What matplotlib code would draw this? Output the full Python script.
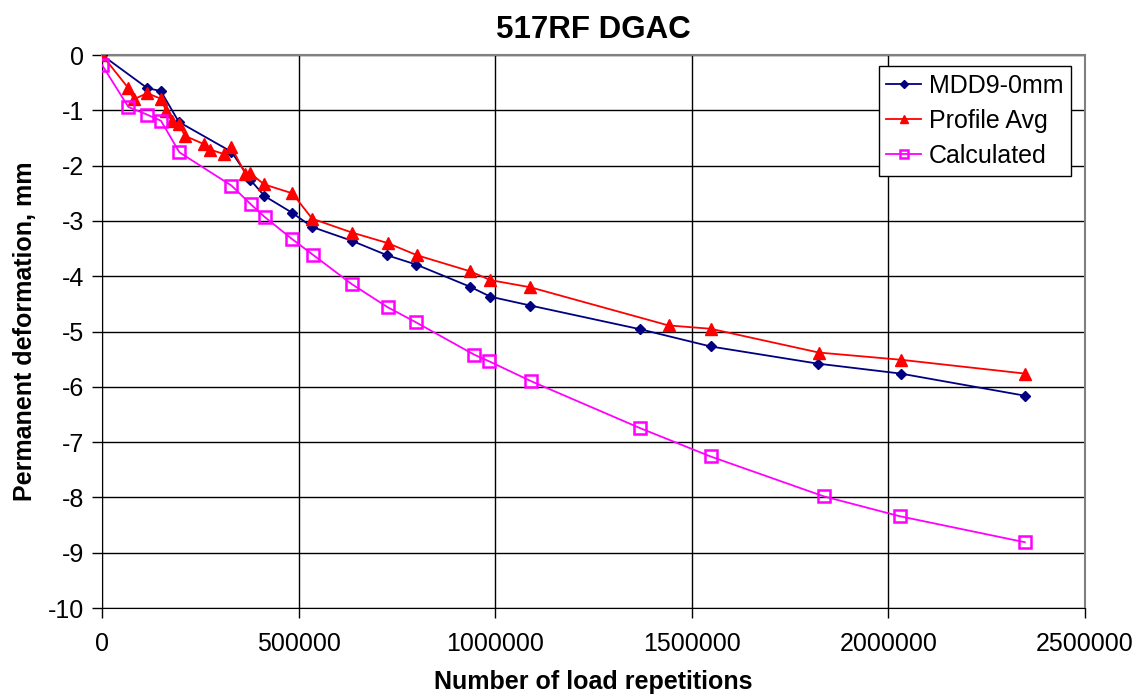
import matplotlib
matplotlib.use("Agg")
from matplotlib import pyplot as plt

plt.rcParams['font.family'] = ['Liberation Sans', 'DejaVu Sans']
plt.rcParams['axes.unicode_minus'] = False

# MDD9-0mm
mdd_x = [0, 115300, 149400, 195300, 329200, 377500, 413200, 483000, 534600, 635700,
         724800, 799400, 936000, 987800, 1089600, 1369600, 1547900, 1820000, 2031000, 2347000]
mdd_y = [0, -0.60, -0.65, -1.21, -1.75, -2.26, -2.55, -2.85, -3.11, -3.36,
         -3.62, -3.79, -4.19, -4.37, -4.53, -4.96, -5.27, -5.58, -5.76, -6.16]

# Profile Avg
prof_x = [0, 66000, 80700, 114600, 149400, 163700, 177400, 196000, 210500, 258900,
          275000, 309800, 328400, 364800, 377500, 412400, 483700, 534600, 635700, 726300,
          801000, 936000, 987800, 1089600, 1441000, 1548000, 1823000, 2031000, 2347000]
prof_y = [0, -0.59, -0.80, -0.69, -0.79, -1.02, -1.20, -1.25, -1.46, -1.61,
          -1.71, -1.79, -1.66, -2.15, -2.14, -2.34, -2.50, -2.96, -3.21, -3.40,
          -3.62, -3.91, -4.07, -4.20, -4.89, -4.95, -5.38, -5.51, -5.76]

# Calculated
calc_x = [0, 67000, 115300, 150000, 196800, 329000, 378500, 414000, 483700, 536000,
          634700, 726300, 797600, 947000, 985000, 1092000, 1369600, 1548000, 1835600, 2029000, 2347000]
calc_y = [-0.18, -0.94, -1.08, -1.19, -1.76, -2.36, -2.70, -2.93, -3.33, -3.61,
          -4.14, -4.56, -4.83, -5.42, -5.54, -5.90, -6.75, -7.26, -7.98, -8.34, -8.81]

fig = plt.figure(figsize=(11.39, 6.94), dpi=100)
ax = fig.add_axes([0.0896, 0.1239, 0.8629, 0.7968])

ax.plot(mdd_x, mdd_y, color="#000080", linewidth=1.3, marker="D", markersize=5.5,
        label="MDD9-0mm", zorder=3)
ax.plot(prof_x, prof_y, color="#ff0000", linewidth=1.3, marker="^", markersize=8,
        label="Profile Avg", zorder=3)
ax.plot(calc_x, calc_y, color="#ff00ff", linewidth=1.3, marker="s", markersize=8,
        markerfacecolor="none", markeredgewidth=1.8, label="Calculated", zorder=4)

ax.set_xlim(0, 2500000)
ax.set_ylim(-10, 0)
ax.set_xticks([0, 500000, 1000000, 1500000, 2000000, 2500000])
ax.set_xticklabels(["0", "500000", "1000000", "1500000", "2000000", "2500000"])
ax.set_yticks(range(-10, 1))
ax.set_yticklabels([str(v) for v in range(-10, 1)])
ax.tick_params(labelsize=18, length=7, width=1, direction="out", pad=6)
ax.tick_params(axis="x", pad=10)
ax.grid(True, color="#000000", linewidth=1.0)
ax.set_axisbelow(True)

ax.spines['top'].set_color("#808080")
ax.spines['right'].set_color("#808080")
ax.spines['top'].set_linewidth(1.5)
ax.spines['right'].set_linewidth(1.5)

ax.set_title("517RF DGAC", fontsize=22.5, fontweight="bold", pad=12)
ax.set_xlabel("Number of load repetitions", fontsize=18, fontweight="bold", labelpad=10)
ax.set_ylabel("Permanent deformation, mm", fontsize=18, fontweight="bold", labelpad=8)

leg = ax.legend(loc="upper right", bbox_to_anchor=(0.9858, 0.980), borderaxespad=0,
                fontsize=18, fancybox=False, framealpha=1, edgecolor="#000000",
                handlelength=1.4, borderpad=0.3, labelspacing=0.45, handletextpad=0.3,
                markerscale=0.8)
leg.get_frame().set_linewidth(1.0)

fig.savefig("out.png", dpi=100)
